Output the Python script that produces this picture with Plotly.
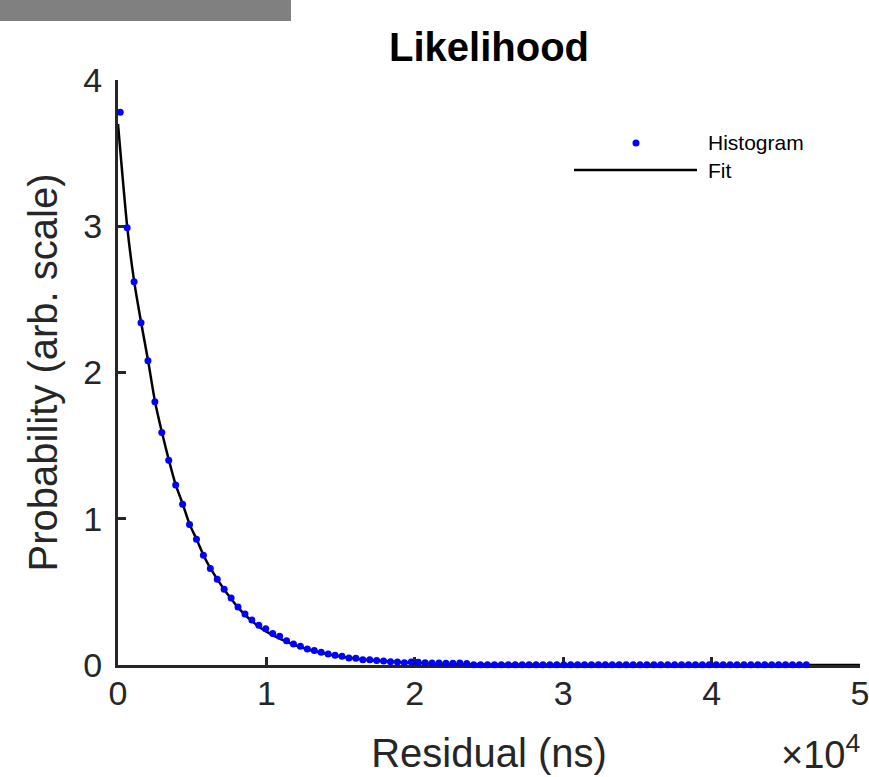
import plotly.graph_objects as go

# ---- data ----
hist_x = [150, 617, 1084, 1551, 2018, 2485, 2952, 3419, 3886, 4353,
          4820, 5287, 5754, 6221, 6688, 7155, 7622, 8089, 8556, 9023,
          9490, 9957, 10424, 10891, 11358, 11825, 12292, 12759, 13226, 13693,
          14160, 14627, 15094, 15561, 16028, 16495, 16962, 17429, 17896, 18363,
          18830, 19297, 19764, 20231, 20698, 21165, 21632, 22099, 22566, 23033,
          23500, 23967, 24434, 24901, 25368, 25835, 26302, 26769, 27236, 27703,
          28170, 28637, 29104, 29571, 30038, 30505, 30972, 31439, 31906, 32373,
          32840, 33307, 33774, 34241, 34708, 35175, 35642, 36109, 36576, 37043,
          37510, 37977, 38444, 38911, 39378, 39845, 40312, 40779, 41246, 41713,
          42180, 42647, 43114, 43581, 44048, 44515, 44982, 45449, 45916, 46383]
hist_y = [3.78, 2.99, 2.62, 2.34, 2.08, 1.80, 1.59, 1.40, 1.23, 1.10,
          0.96, 0.86, 0.75, 0.66, 0.586, 0.518, 0.458, 0.397, 0.349, 0.308,
          0.271, 0.248, 0.216, 0.196, 0.166, 0.144, 0.128, 0.109, 0.100, 0.087,
          0.075, 0.066, 0.059, 0.048, 0.046, 0.036, 0.036, 0.030, 0.027, 0.023,
          0.021, 0.016, 0.020, 0.018, 0.015, 0.013, 0.013, 0.012, 0.012, 0.013,
          0.010, 0.002, 0.002, 0.002, 0.002, 0.001, 0.001, 0.001, 0.001, 0.001,
          0.001, 0.001, 0.001, 0.001, 0.001, 0.001, 0.001, 0.001, 0.001, 0.001,
          0.001, 0.001, 0.001, 0.001, 0.001, 0.001, 0.001, 0.001, 0.001, 0.001,
          0.001, 0.001, 0.001, 0.001, 0.001, 0.001, 0.001, 0.001, 0.001, 0.001,
          0.001, 0.001, 0.001, 0.001, 0.001, 0.001, 0.001, 0.001, 0.001, 0.001]

fit_x = [0, 627, 1094, 1561, 2028, 2495, 2962, 3429, 3896, 4363,
         4830, 5297, 5764, 6231, 6698, 7165, 7632, 8099, 8566, 9033,
         9500, 10000, 11000, 12000, 13000, 14000, 15000, 16000, 17000, 18000,
         19000, 20000, 22000, 25000, 30000, 40000, 50000]
fit_y = [3.70, 2.99, 2.62, 2.34, 2.08, 1.80, 1.59, 1.40, 1.23, 1.10,
         0.96, 0.86, 0.75, 0.66, 0.585, 0.515, 0.452, 0.392, 0.342, 0.300,
         0.262, 0.228, 0.175, 0.133, 0.101, 0.077, 0.058, 0.044, 0.033, 0.025,
         0.019, 0.014, 0.008, 0.004, 0.001, 0.0, 0.0]

x_ticks = [0, 10000, 20000, 30000, 40000, 50000]
x_tick_labels = ["0", "1", "2", "3", "4", "5"]
y_ticks = [0, 1, 2, 3, 4]
y_tick_labels = ["0", "1", "2", "3", "4"]

title_text = "Likelihood"
x_label = "Residual (ns)"
y_label = "Probability (arb. scale)"
legend_names = ["Histogram", "Fit"]

# ---- layout geometry ----
W, H = 869, 777
L, R, T, B = 118, 9, 80, 112
PW = W - L - R
PH = H - T - B
FONT = "Arial, Liberation Sans, Helvetica, sans-serif"
AX = "#262626"


def px(xp):
    return (xp - L) / PW


def py(yp):
    return (H - B - yp) / PH


fig = go.Figure()
fig.add_trace(go.Scatter(x=fit_x, y=fit_y, mode="lines", name=legend_names[1],
                         line=dict(color="black", width=2.5, shape="spline", smoothing=0.6),
                         cliponaxis=False, showlegend=False))
fig.add_trace(go.Scatter(x=hist_x, y=hist_y, mode="markers", name=legend_names[0],
                         marker=dict(color="#0000ff", size=7, line=dict(width=0)),
                         cliponaxis=False, showlegend=False))

shapes = [
    # grey bar at top-left
    dict(type="rect", xref="paper", yref="paper",
         x0=px(0), x1=px(291), y0=py(21), y1=py(0),
         fillcolor="#808080", line=dict(width=0), layer="above"),
    # legend: marker
    dict(type="circle", xref="paper", yref="paper",
         x0=px(632.5), x1=px(639.5), y0=py(146.5), y1=py(139.5),
         fillcolor="#0000ff", line=dict(width=0)),
    # legend: line
    dict(type="line", xref="paper", yref="paper",
         x0=px(574), x1=px(697), y0=py(170), y1=py(170),
         line=dict(color="black", width=2.5)),
]

annotations = [
    dict(text=legend_names[0], xref="paper", yref="paper", x=px(706), y=py(143),
         xanchor="left", yanchor="middle", showarrow=False,
         font=dict(family=FONT, size=21, color="black")),
    dict(text=legend_names[1], xref="paper", yref="paper", x=px(706), y=py(170),
         xanchor="left", yanchor="middle", showarrow=False,
         font=dict(family=FONT, size=21, color="black")),
    dict(text="\u00d710<sup>4</sup>", xref="paper", yref="paper", x=px(861), y=py(777),
         xanchor="right", yanchor="bottom", showarrow=False, borderpad=0,
         font=dict(family=FONT, size=38, color=AX)),
]

fig.update_layout(
    width=W, height=H,
    margin=dict(l=L, r=R, t=T, b=B, pad=0),
    paper_bgcolor="white", plot_bgcolor="white",
    title=dict(text="<b>" + title_text + "</b>", xref="container", x=489 / W, xanchor="center",
               yref="container", y=1 - 47 / H, yanchor="middle",
               font=dict(family=FONT, size=40, color="black")),
    shapes=shapes, annotations=annotations,
    showlegend=False,
)

fig.update_xaxes(range=[0, 50000], tickvals=x_ticks, ticktext=x_tick_labels,
                 automargin=False, ticklabeloverflow="allow",
                 showgrid=False, zeroline=False, showline=True, linewidth=3,
                 linecolor=AX, ticks="inside", ticklen=8, tickwidth=3, tickcolor=AX,
                 tickfont=dict(family=FONT, size=34, color=AX), ticklabelstandoff=-4,
                 title=dict(text=x_label, font=dict(family=FONT, size=40, color=AX), standoff=29),
                 layer="below traces")
fig.update_yaxes(range=[0, 4], tickvals=y_ticks, ticktext=y_tick_labels,
                 automargin=False, ticklabeloverflow="allow",
                 showgrid=False, zeroline=False, showline=True, linewidth=3,
                 linecolor=AX, ticks="inside", ticklen=8, tickwidth=3, tickcolor=AX,
                 tickfont=dict(family=FONT, size=34, color=AX), ticklabelstandoff=6,
                 title=dict(text=y_label, font=dict(family=FONT, size=40, color=AX), standoff=14),
                 layer="below traces")

fig.write_html("out.html")
